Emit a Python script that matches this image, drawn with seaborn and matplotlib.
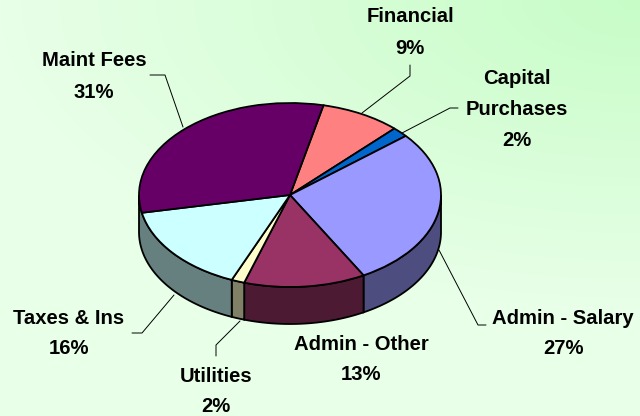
import numpy as np
import matplotlib
matplotlib.use("Agg")
import matplotlib.pyplot as plt
from matplotlib.transforms import Affine2D
import seaborn as sns

# Data: clockwise from the Maint Fees / Financial boundary (shares)
categories = ["Financial", "Capital\nPurchases", "Admin - Salary", "Admin - Other",
              "Utilities", "Taxes & Ins", "Maint Fees"]
shares = [8.6, 1.75, 28.0, 13.0, 1.4, 15.6, 31.65]
percent_labels = ["9%", "2%", "27%", "13%", "2%", "16%", "31%"]
hex_colors = ["#FF8080", "#0066CC", "#9999FF", "#993366", "#FFFFCC", "#CCFFFF", "#660066"]

# Layout (pixels of the 640x416 image)
W, H = 640, 416
CX, CY, RX, RY, DEPTH = 290, 195, 151, 92, 37
START_ANGLE = 77.2
label_pos = [(410, 32.5), (517, 109.5), (563, 333.5), (361, 359.5), (216, 391.5), (69, 333.5), (94, 76.5)]
leaders = [
    [(410, 65), (410, 76), (362, 113)],
    [(458, 108), (450, 108), (402, 133)],
    [(439, 250), (478, 325), (486, 325)],
    None,
    [(216, 356), (216, 345), (240, 321)],
    [(132, 333), (142, 333), (174, 295)],
    [(150, 75), (165, 75), (183, 127)],
]
# The tilted view hides the wall of the last slice; the one before it runs to the left rim
WALL_HIDDEN = "Maint Fees"
WALL_TO_RIM = "Taxes & Ins"

sns.set_theme(style="white")
plt.rcParams["font.family"] = ["Liberation Sans", "DejaVu Sans"]
palette = sns.color_palette(hex_colors)

fig = plt.figure(figsize=(W / 100, H / 100), dpi=100)
ax = fig.add_axes([0, 0, 1, 1])

wedges, _ = ax.pie(shares, colors=palette, startangle=START_ANGLE, counterclock=False,
                   radius=1, center=(0, 0),
                   wedgeprops=dict(edgecolor="black", linewidth=1.3, zorder=3))
ax.set_aspect("auto")
ax.set_xlim(-CX / RX, (W - CX) / RX)
ax.set_ylim((CY - H) / RY, CY / RY)
ax.axis("on")
ax.set_xticks([])
ax.set_yticks([])
for s in ax.spines.values():
    s.set_visible(False)

# Background gradient, darkest in the upper right corner
yy, xx = np.mgrid[0:1:208j, 0:1:320j]
t = np.clip(1 - np.hypot((1 - xx) * 1.0, yy * 1.35) / 1.0, 0, 1)
low, high = np.array([0.91, 1.0, 0.91]), np.array([0.78, 0.99, 0.78])
bg = low + (high - low) * t[..., None]
ax.imshow(bg, extent=[*ax.get_xlim(), *ax.get_ylim()], origin="upper",
          aspect="auto", zorder=0, interpolation="bilinear")

# Extruded side walls: the part of each slice rim on the front half of the ellipse
depth_units = DEPTH / RY
for name, wedge, color in zip(categories, wedges, palette):
    if name == WALL_HIDDEN:
        continue
    t1, t2 = wedge.theta1, wedge.theta2
    for shift in (-720, -360, 0, 360):
        lo, hi = max(t1 + shift, -180), min(t2 + shift, 0)
        if hi <= lo:
            continue
        if name == WALL_TO_RIM:
            lo = -180
        a = np.radians(np.linspace(lo, hi, 60))
        xs = np.r_[np.cos(a), np.cos(a[::-1])]
        ys = np.r_[np.sin(a), np.sin(a[::-1]) - depth_units]
        ax.fill(xs, ys, facecolor=np.array(color) * 0.5, edgecolor="black",
                linewidth=1.3, zorder=2)

ax.set_xlim(-CX / RX, (W - CX) / RX)
ax.set_ylim((CY - H) / RY, CY / RY)

# Pixel coordinate transform for labels and leader lines
to_px = Affine2D().scale(1 / W, -1 / H).translate(0, 1) + ax.transAxes

for name, pct, pos, lead in zip(categories, percent_labels, label_pos, leaders):
    ax.text(*pos, f"{name}\n{pct}", transform=to_px, ha="center", va="center",
            multialignment="center", fontsize=14.6, fontweight="bold", color="black",
            linespacing=1.8, zorder=6)
    if lead is not None:
        px, py = zip(*lead)
        ax.plot(px, py, transform=to_px, color="black", linewidth=0.7, zorder=1.5)

fig.savefig("out.png", dpi=100)
